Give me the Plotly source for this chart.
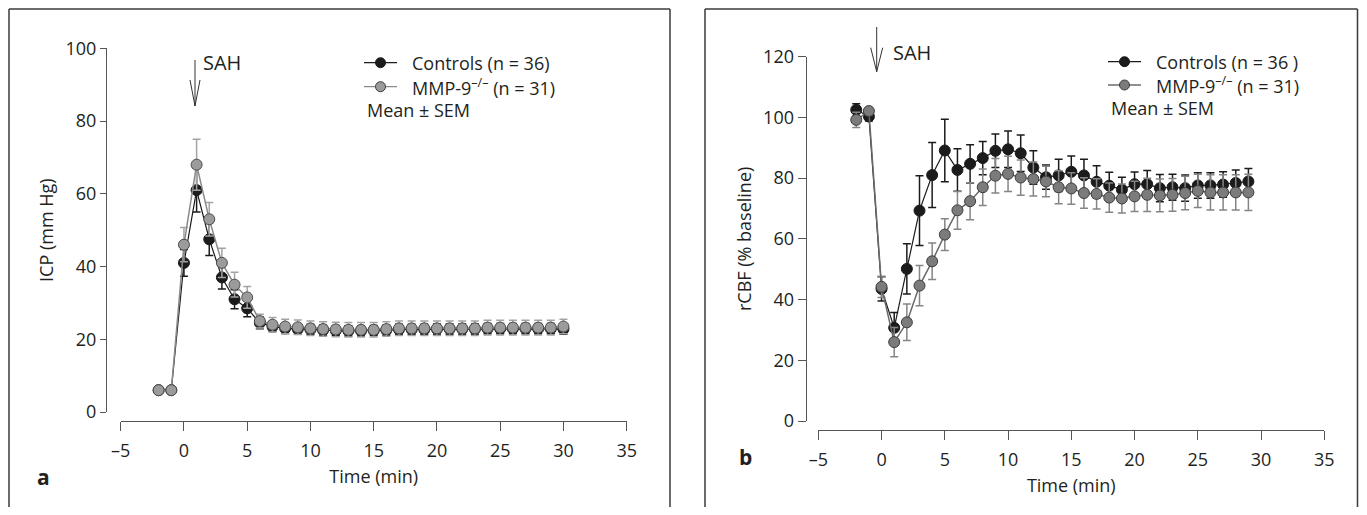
import plotly.graph_objects as go

W, H = 1367, 515
OFF = 8  # page body margin in the browser
FW, FH = W - 2 * OFF, H - 2 * OFF  # figure size that fits the window without overflow

def px(x):
    return (x - OFF) / FW

def py(y):
    return 1 - (y - OFF) / FH

# ---------------- data ----------------
time_a = [-2, -1, 0, 1, 2, 3, 4, 5, 6, 7, 8, 9, 10, 11, 12, 13, 14, 15, 16, 17, 18, 19, 20,
          21, 22, 23, 24, 25, 26, 27, 28, 29, 30]
icp_ctrl = [6, 6, 41, 61, 47.5, 37, 31, 28.5, 24.5, 23.5, 23, 22.8, 22.7, 22.5, 22.4, 22.3, 22.3,
            22.4, 22.5, 22.7, 22.7, 22.7, 22.8, 22.8, 22.8, 22.8, 22.9, 22.9, 22.9, 22.9, 22.9, 22.9, 22.8]
icp_ctrl_err = [0.5, 0.5, 3.7, 6.0, 4.5, 3.2, 2.6, 2.3, 1.6, 1.4, 1.4, 1.4, 1.4, 1.4, 1.4, 1.4, 1.4,
                1.4, 1.4, 1.4, 1.4, 1.4, 1.4, 1.4, 1.4, 1.4, 1.4, 1.4, 1.4, 1.4, 1.4, 1.4, 1.4]
icp_mmp = [6, 6, 46, 68, 53, 41, 35, 31.5, 25, 24, 23.5, 23.3, 23, 22.8, 22.7, 22.6, 22.6, 22.6,
           22.8, 23, 23, 23, 23, 23, 23, 23, 23.2, 23.2, 23.2, 23.2, 23.2, 23.2, 23.5]
icp_mmp_err = [0.5, 0.5, 4.7, 7.0, 4.6, 4.0, 3.4, 3.0, 1.9, 2.0, 2.0, 2.0, 2.0, 2.0, 2.0, 2.0, 2.0,
               2.0, 2.0, 2.0, 2.0, 2.0, 2.0, 2.0, 2.0, 2.0, 2.0, 2.0, 2.0, 2.0, 2.0, 2.0, 2.0]

time_b = [-2, -1, 0, 1, 2, 3, 4, 5, 6, 7, 8, 9, 10, 11, 12, 13, 14, 15, 16, 17, 18, 19, 20,
          21, 22, 23, 24, 25, 26, 27, 28, 29]
cbf_ctrl = [102.5, 100.3, 43.5, 30.7, 50.1, 69.3, 81, 89.1, 82.7, 84.7, 86.6, 89, 89.5, 88.2, 83.5,
            80.3, 80.9, 82.1, 80.9, 78.8, 77.5, 76.2, 78, 78, 76.7, 77, 76.7, 77.6, 77.6, 77.9, 78.4, 78.9]
cbf_ctrl_err = [2.0, 1.5, 4.0, 5.0, 8.3, 11.5, 10.7, 10.3, 7.0, 6.3, 5.5, 5.5, 6.0, 6.0, 5.5, 4.0,
                5.3, 5.2, 5.3, 5.3, 4.4, 4.1, 4.0, 4.5, 4.5, 4.3, 4.3, 4.2, 4.2, 4.2, 4.3, 4.3]
cbf_mmp = [99.2, 102.1, 44.2, 26, 32.5, 44.6, 52.6, 61.4, 69.4, 72.4, 77, 80.8, 81.4, 80.2, 79.7,
           78.9, 77, 76.6, 75.1, 74.8, 73.6, 73.3, 74, 74.5, 74.3, 74.5, 75.1, 75.8, 75.3, 75.3, 75.3, 75.3]
cbf_mmp_err = [2.5, 1.2, 3.5, 4.8, 6.0, 6.6, 6.0, 5.2, 6.2, 6.1, 6.0, 5.7, 5.8, 5.8, 5.6, 5.0,
               5.4, 5.2, 5.0, 5.0, 4.8, 4.8, 5.0, 5.5, 5.4, 5.4, 5.5, 5.5, 5.8, 5.8, 5.8, 6.0]

x_ticks = [-5, 0, 5, 10, 15, 20, 25, 30, 35]
x_ticktext = ["–5", "0", "5", "10", "15", "20", "25", "30", "35"]
ya_ticks = [0, 20, 40, 60, 80, 100]
yb_ticks = [0, 20, 40, 60, 80, 100, 120]

legend_a = ["Controls (n = 36)", "MMP-9<sup>–/–</sup> (n = 31)"]
legend_b = ["Controls (n = 36 )", "MMP-9<sup>–/–</sup> (n = 31)"]

# ---------------- style ----------------
FONT = "Open Sans"
TXT = "#231f20"
BLACK = "#1b1b1b"
GREY_A = "#9b9b9b"
GREY_A_LINE = "#8a8a8a"
GREY_B = "#7b7b7b"
GREY_B_LINE = "#6a6a6a"

fig = go.Figure()

def add_series(x, y, err, xa, ya, fill, outline, linec, errc, size, lw):
    fig.add_trace(go.Scatter(
        x=x, y=y, xaxis=xa, yaxis=ya, mode="lines+markers", showlegend=False,
        line=dict(color=linec, width=lw),
        marker=dict(size=size, color=fill, line=dict(color=outline, width=1)),
        error_y=dict(type="data", array=err, visible=True, color=errc, thickness=1.5, width=4),
    ))

add_series(time_a, icp_ctrl, icp_ctrl_err, "x", "y", BLACK, BLACK, BLACK, BLACK, 11, 1.2)
add_series(time_a, icp_mmp, icp_mmp_err, "x", "y", GREY_A, "#4d4d4d", GREY_A_LINE, "#a3a3a3", 11, 1.5)
add_series(time_b, cbf_ctrl, cbf_ctrl_err, "x2", "y2", BLACK, BLACK, BLACK, BLACK, 11, 1.2)
add_series(time_b, cbf_mmp, cbf_mmp_err, "x2", "y2", GREY_B, "#3c3c3c", GREY_B_LINE, "#858585", 11, 1.5)

axis_common = dict(showline=True, linecolor="#555555", linewidth=1.2, ticks="outside",
                   tickcolor="#555555", tickwidth=1.2, showgrid=False, zeroline=False,
                   automargin=False,
                   tickfont=dict(family=FONT, size=18, color=TXT))

fig.update_layout(
    width=FW, height=FH, margin=dict(l=0, r=0, t=0, b=0, autoexpand=False),
    paper_bgcolor="white", plot_bgcolor="white",
    showlegend=False,
    xaxis=dict(domain=[px(120.7), px(626.7)], range=[-5, 35], anchor="free", position=py(421),
               tickvals=x_ticks, ticktext=x_ticktext, ticklen=9, ticklabelstandoff=4,
               title=dict(text="Time (min)", font=dict(family=FONT, size=18, color=TXT), standoff=9),
               **axis_common),
    yaxis=dict(domain=[py(412), py(48.3)], range=[0, 100], anchor="free", position=px(106),
               tickvals=ya_ticks, ticklen=6,
               title=dict(text="ICP (mm Hg)", font=dict(family=FONT, size=18, color=TXT), standoff=6),
               **axis_common),
    xaxis2=dict(domain=[px(818.3), px(1324.3)], range=[-5, 35], anchor="free", position=py(430),
                tickvals=x_ticks, ticktext=x_ticktext, ticklen=9, ticklabelstandoff=4,
                title=dict(text="Time (min)", font=dict(family=FONT, size=18, color=TXT), standoff=9),
                **axis_common),
    yaxis2=dict(domain=[py(421), py(56.7)], range=[0, 120], anchor="free", position=px(805.7),
                tickvals=yb_ticks, ticklen=8,
                title=dict(text="rCBF (% baseline)", font=dict(family=FONT, size=18, color=TXT), standoff=5),
                **axis_common),
)

shapes = []
frame = dict(color="#3a3a3a", width=1.5)
TOP = 9  # frame top (cannot go above the page margin)
# panel frames (open at bottom)
for (l, r) in [(9, 670), (705, 1357.5)]:
    shapes.append(dict(type="line", xref="paper", yref="paper", x0=px(l), x1=px(r), y0=py(TOP), y1=py(TOP), line=frame))
    shapes.append(dict(type="line", xref="paper", yref="paper", x0=px(l), x1=px(l), y0=py(TOP), y1=0, line=frame))
    shapes.append(dict(type="line", xref="paper", yref="paper", x0=px(r), x1=px(r), y0=py(TOP), y1=0, line=frame))

# SAH arrows
def arrow(x, top, tip, half, head):
    shapes.append(dict(type="line", xref="paper", yref="paper", x0=px(x), x1=px(x), y0=py(top), y1=py(tip),
                       line=dict(color="#333333", width=1)))
    shapes.append(dict(type="path", xref="paper", yref="paper",
                       path=f"M {px(x-half)} {py(tip-head)} L {px(x)} {py(tip)} L {px(x+half)} {py(tip-head)}",
                       line=dict(color="#333333", width=1)))

arrow(195, 60, 106, 5, 26)
arrow(876.7, 27, 71.7, 6, 24)

annotations = []

def text(x, y, s, size=18, anchor="left", bold=False):
    annotations.append(dict(xref="paper", yref="paper", x=px(x), y=py(y), text=f"<b>{s}</b>" if bold else s,
                            showarrow=False, xanchor=anchor, yanchor="middle",
                            font=dict(family=FONT, size=size, color=TXT)))

text(201, 62, "SAH", size=20)
text(891, 53, "SAH", size=20)
text(43, 477, "a", size=21, anchor="center", bold=True)
text(745, 457, "b", size=21, anchor="center", bold=True)

# manual legends
def legend(x0, x1, xm, xt, y1, y2, ym, xmean, labels, grey_fill, grey_line):
    rows = [(y1, BLACK, BLACK, BLACK), (y2, grey_fill, "#3c3c3c", grey_line)]
    for (yy, fill, outl, lc), lab in zip(rows, labels):
        shapes.append(dict(type="line", xref="paper", yref="paper", x0=px(x0), x1=px(x1), y0=py(yy), y1=py(yy),
                           line=dict(color=lc, width=1.3)))
        shapes.append(dict(type="circle", xref="paper", yref="paper", xsizemode="pixel", ysizemode="pixel",
                           xanchor=px(xm), yanchor=py(yy), x0=-5, x1=5, y0=-5, y1=5,
                           fillcolor=fill, line=dict(color=outl, width=1)))
        text(xt, yy, lab)
    text(xmean, ym, "Mean ± SEM")

legend(364, 397, 380.5, 410, 62.7, 86.7, 110, 365, legend_a, GREY_A, GREY_A_LINE)
legend(1108, 1141, 1124.5, 1154, 61.7, 85, 108.3, 1109, legend_b, GREY_B, GREY_B_LINE)

fig.update_layout(shapes=shapes, annotations=annotations)

fig.write_html("out.html")
